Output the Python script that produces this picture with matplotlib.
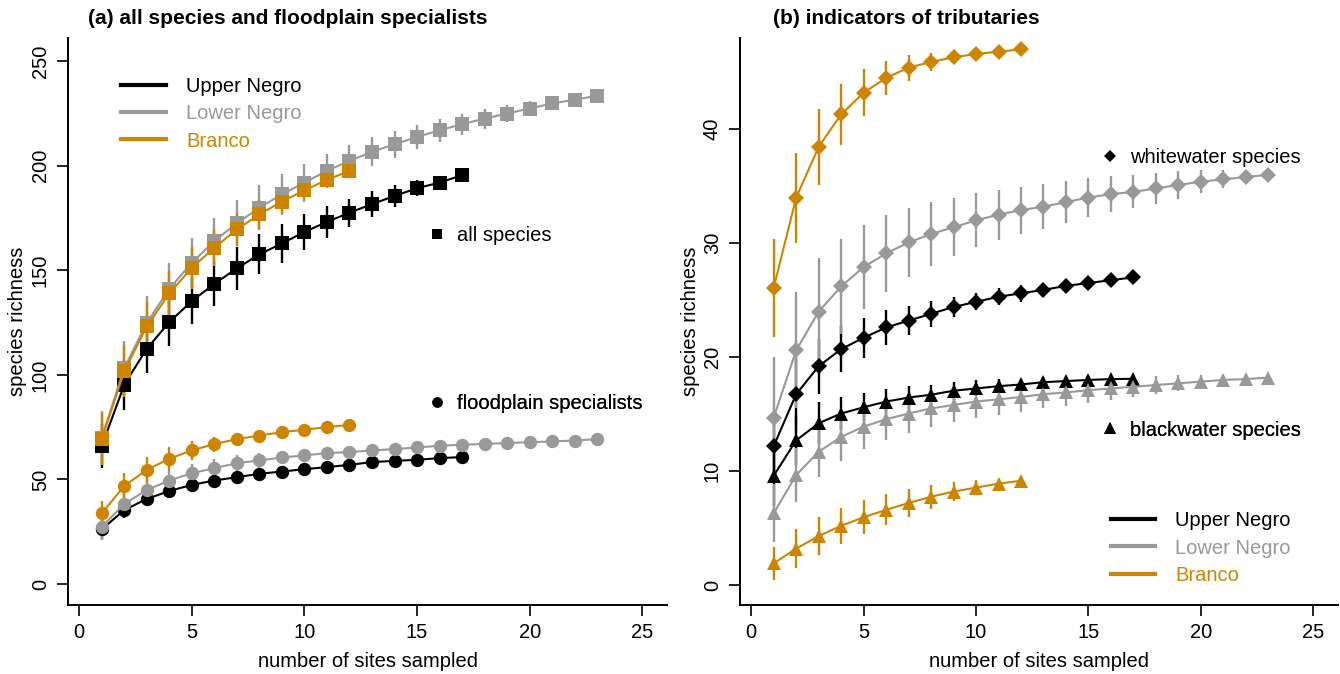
import matplotlib
matplotlib.use("Agg")
import matplotlib.pyplot as plt
import numpy as np
from matplotlib.lines import Line2D

plt.rcParams['font.family'] = ['Liberation Sans', 'DejaVu Sans']

BLACK = '#000000'
GREY = '#999999'
ORANGE = '#CD8500'

regions = ['Upper Negro', 'Lower Negro', 'Branco']
region_colors = [BLACK, GREY, ORANGE]

# (a) all species: mean richness and spread per number of sites
up_all = [66, 95.3, 112.5, 125.2, 135.3, 143.5, 150.9, 157.6, 162.8, 168.3, 173.1, 177.5, 181.6, 185.5, 189.2, 191.9, 195.4]
up_all_sd = [10.5, 12, 11.6, 11.5, 10.8, 10.4, 10.2, 9.6, 9.2, 8.4, 7.6, 6.7, 6.1, 5.1, 3.8, 2.2, 0]
lo_all = [70, 103.3, 124.9, 141.1, 153.6, 164.0, 172.4, 179.9, 186.3, 191.9, 197.5, 202.3, 206.6, 210.2,
          213.7, 216.9, 219.8, 222.5, 224.9, 227.3, 229.7, 231.5, 233.4]
lo_all_sd = [12.5, 12.7, 13, 12.5, 12, 11.1, 11, 10.9, 9.9, 9.1, 8, 7.5, 6.9, 6.5, 5.8, 5.6, 5.0, 4.8, 4.1,
             3.4, 2.2, 1.0, 0]
br_all = [69.3, 101.7, 123.2, 138.9, 151.2, 160.8, 169.5, 176.7, 182.8, 188.2, 193.2, 197.5]
br_all_sd = [12.4, 12.4, 11.4, 10.5, 10, 9, 8, 7, 5.5, 4, 2.5, 0]

# (a) floodplain specialists
up_fp = [26.2, 35.4, 40.7, 44.5, 47.4, 49.5, 51.1, 52.7, 53.8, 54.9, 55.9, 57.0, 58.3, 58.9, 59.4, 60.2, 60.7]
up_fp_sd = [4.5, 4, 3.6, 3.2, 3, 2.8, 2.6, 2.4, 2.2, 2, 1.8, 1.6, 1.4, 1.2, 0.9, 0.6, 0]
lo_fp = [27.4, 38.3, 45.0, 49.5, 53.0, 55.4, 57.8, 59.1, 60.5, 61.5, 62.6, 63.1, 63.9, 64.5, 65.3, 66.1,
         66.6, 67.0, 67.4, 67.8, 68.2, 68.6, 69.3]
lo_fp_sd = [6.4, 5.2, 5, 4.8, 4.6, 4.4, 4, 3.6, 3.3, 3, 2.8, 2.5, 2.3, 2.1, 1.9, 1.7, 1.5, 1.3, 1.1, 0.9,
            0.6, 0.3, 0]
br_fp = [33.8, 46.9, 54.6, 59.9, 63.9, 66.9, 69.3, 71.0, 72.6, 73.8, 75.0, 76.1]
br_fp_sd = [6, 6.4, 6.2, 5.6, 4.4, 3.6, 3, 2.5, 2, 1.5, 1, 0]

# (b) whitewater indicator species
up_ww = [12.2, 16.75, 19.2, 20.7, 21.7, 22.6, 23.2, 23.8, 24.4, 24.85, 25.3, 25.6, 25.9, 26.25, 26.5, 26.75, 27.0]
up_ww_sd = [3.0, 3.2, 2.4, 2.0, 1.75, 1.5, 1.3, 1.15, 0.9, 0.75, 0.75, 0.75, 0.6, 0.6, 0.45, 0.3, 0]
lo_ww = [14.7, 20.6, 24.0, 26.2, 27.9, 29.1, 30.06, 30.8, 31.4, 32.0, 32.5, 32.9, 33.2, 33.6, 34.0, 34.3,
         34.5, 34.8, 35.1, 35.4, 35.6, 35.8, 36.0]
lo_ww_sd = [5.3, 5.1, 4.7, 4.2, 3.7, 3.35, 3.0, 2.77, 2.55, 2.37, 2.2, 2.07, 1.96, 1.84, 1.71, 1.6, 1.45,
            1.35, 1.23, 1.0, 0.8, 0.2, 0]
br_ww = [26.1, 34.0, 38.45, 41.3, 43.2, 44.5, 45.4, 45.9, 46.3, 46.6, 46.8, 47.0]
br_ww_sd = [4.3, 3.95, 3.35, 2.7, 2.05, 1.5, 1.13, 0.8, 0.5, 0.3, 0.15, 0]

# (b) blackwater indicator species
up_bw = [9.6, 12.7, 14.2, 15.05, 15.6, 16.1, 16.45, 16.7, 17.05, 17.25, 17.45, 17.6, 17.8, 17.9, 18.0, 18.07, 18.1]
up_bw_sd = [2.7, 2.2, 1.83, 1.46, 1.24, 1.13, 0.98, 0.88, 0.8, 0.7, 0.6, 0.5, 0.45, 0.35, 0.3, 0.2, 0]
lo_bw = [6.3, 9.65, 11.7, 13.0, 13.9, 14.55, 15.05, 15.5, 15.8, 16.1, 16.3, 16.5, 16.75, 16.9, 17.1, 17.25,
         17.4, 17.55, 17.7, 17.85, 18.0, 18.07, 18.2]
lo_bw_sd = [2.56, 2.4, 2.2, 2.1, 2.0, 1.85, 1.7, 1.6, 1.5, 1.4, 1.35, 1.3, 1.25, 1.2, 1.1, 1.0, 0.9, 0.8,
            0.7, 0.55, 0.4, 0.25, 0]
br_bw = [1.9, 3.2, 4.3, 5.2, 5.95, 6.6, 7.2, 7.75, 8.2, 8.55, 8.9, 9.15]
br_bw_sd = [1.46, 1.68, 1.68, 1.56, 1.49, 1.36, 1.2, 1.05, 0.85, 0.65, 0.4, 0]

FS = 14.5
MARKER_SIZE = {'s': 10, 'o': 9.6, 'D': 8.5, '^': 10.5}


def draw_curves(ax, series, marker):
    for (mean, sd), color in zip(series, region_colors):
        sites = np.arange(1, len(mean) + 1)
        ax.errorbar(sites, mean, yerr=sd, fmt='-' + marker, color=color, ecolor=color,
                    elinewidth=1.7, capsize=0, lw=1.5, ms=MARKER_SIZE[marker],
                    mec=color, mfc=color, mew=0)


def style_axes(ax, ylim, yticks):
    ax.set_xlim(-0.5, 26.1)
    ax.set_ylim(*ylim)
    ax.set_xticks([0, 5, 10, 15, 20, 25])
    ax.set_yticks(yticks)
    for side in ['top', 'right']:
        ax.spines[side].set_visible(False)
    for side in ['left', 'bottom']:
        ax.spines[side].set_linewidth(1.4)
    ax.tick_params(axis='both', direction='out', length=8, width=1.2, labelsize=FS, pad=5)
    for lab in ax.get_yticklabels():
        lab.set_rotation(90)
        lab.set_va('center')
    ax.set_xlabel('number of sites sampled', fontsize=FS, labelpad=7)


def color_legend(ax, anchor):
    handles = [Line2D([], [], color=c, lw=3) for c in region_colors]
    leg = ax.legend(handles, regions, loc='center left', bbox_to_anchor=anchor, frameon=False,
                    fontsize=FS, handlelength=2.2, handletextpad=1.0, labelspacing=0.4,
                    borderpad=0, borderaxespad=0, labelcolor=region_colors)
    ax.add_artist(leg)


def shape_legend(ax, marker, label, anchor, ms):
    h = Line2D([], [], ls='none', marker=marker, color=BLACK, ms=ms, mew=0)
    leg = ax.legend([h], [label], loc='center left', bbox_to_anchor=anchor, frameon=False,
                    fontsize=FS, handlelength=1.0, handletextpad=0.5, borderpad=0, borderaxespad=0)
    ax.add_artist(leg)


fig = plt.figure(figsize=(13.4, 6.74), dpi=100)
W, H = 1340, 674
ax_a = fig.add_axes([68 / W, 1 - 605 / H, 599 / W, 567 / H])
ax_b = fig.add_axes([740 / W, 1 - 605 / H, 598 / W, 567 / H])

# panel (a)
draw_curves(ax_a, [(up_all, up_all_sd), (lo_all, lo_all_sd), (br_all, br_all_sd)], 's')
draw_curves(ax_a, [(up_fp, up_fp_sd), (lo_fp, lo_fp_sd), (br_fp, br_fp_sd)], 'o')
style_axes(ax_a, (-10, 261), [0, 50, 100, 150, 200, 250])
color_legend(ax_a, (0.0893, 0.866))
shape_legend(ax_a, 's', 'all species', (0.599, 0.651), 7.5)
shape_legend(ax_a, 'o', 'floodplain specialists', (0.599, 0.356), 7.5)

# panel (b)
draw_curves(ax_b, [(up_ww, up_ww_sd), (lo_ww, lo_ww_sd), (br_ww, br_ww_sd)], 'D')
draw_curves(ax_b, [(up_bw, up_bw_sd), (lo_bw, lo_bw_sd), (br_bw, br_bw_sd)], '^')
style_axes(ax_b, (-1.75, 48), [0, 10, 20, 30, 40])
color_legend(ax_b, (0.620, 0.1005))
shape_legend(ax_b, 'D', 'whitewater species', (0.602, 0.790), 6.5)
shape_legend(ax_b, '^', 'blackwater species', (0.602, 0.3086), 8)

fig.text(88 / W, 1 - 18 / H, '(a) all species and floodplain specialists', fontsize=15,
         fontweight='bold', ha='left', va='center')
fig.text(773 / W, 1 - 18 / H, '(b) indicators of tributaries', fontsize=15,
         fontweight='bold', ha='left', va='center')
fig.text(18 / W, 1 - 321 / H, 'species richness', fontsize=FS, rotation=90, ha='center', va='center')
fig.text(690 / W, 1 - 321 / H, 'species richness', fontsize=FS, rotation=90, ha='center', va='center')

fig.savefig('out.png', dpi=100)
